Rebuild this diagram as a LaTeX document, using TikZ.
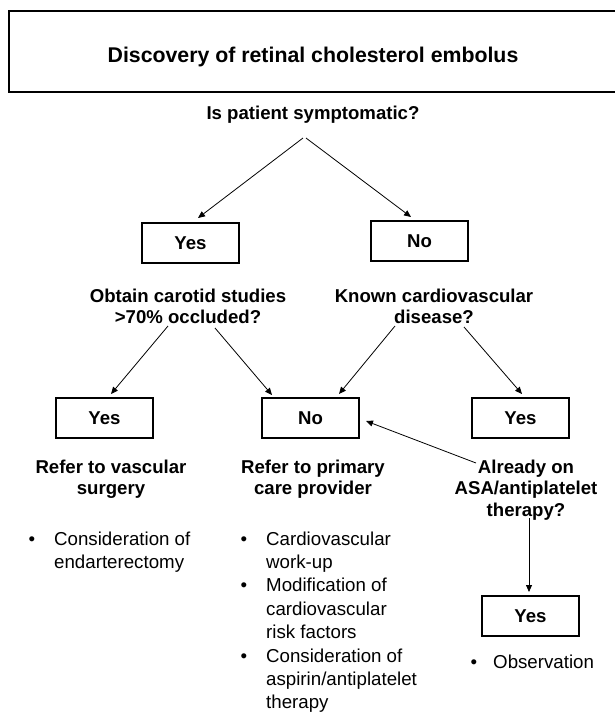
\documentclass[tikz,border=0pt]{standalone}
\usepackage{fontspec}
\setmainfont{Liberation Sans}
\usetikzlibrary{arrows.meta}
\newcommand\bsz{\fontsize{18.6pt}{21.5pt}\selectfont\bfseries}
\newcommand\rsz{\fontsize{18.7pt}{23.4pt}\selectfont}
\tikzset{
  box/.style={draw=black, line width=1.1pt, minimum width=97pt, minimum height=40pt, inner sep=0pt, font=\bsz, text height=13.3pt, text depth=0pt},
  btxt/.style={inner sep=0pt, anchor=base, font=\bsz},
  rtxt/.style={inner sep=0pt, anchor=base west, font=\rsz},
  bul/.style={inner sep=0pt, anchor=base, font=\rsz},
  arr/.style={line width=0.8pt, -{Triangle[length=7pt,width=6pt]}}
}
\begin{document}
\begin{tikzpicture}[x=1pt,y=-1pt]
\useasboundingbox (0,0) rectangle (614,713);
% title
\node[draw=black, line width=1.1pt, minimum width=608pt, minimum height=81pt, inner sep=0pt] (titlebox) at (313,51.5) {};
\node[inner sep=0pt, anchor=base, font=\fontsize{21.3pt}{25pt}\selectfont\bfseries] (title) at (313,62.5) {Discovery of retinal cholesterol embolus};
% question 1
\node[btxt] (q1) at (313,119) {Is patient symptomatic?};
\node[box] (yes1) at (190.5,243) {Yes};
\node[box] (no1) at (419.5,241) {No};
% questions 2
\node[btxt] (q2a) at (188,302) {Obtain carotid studies};
\node[btxt] (q2b) at (188,323) {>70\% occluded?};
\node[btxt] (q3a) at (434,302) {Known cardiovascular};
\node[btxt] (q3b) at (434,323) {disease?};
% row boxes
\node[box] (yes2) at (104.5,418) {Yes};
\node[box] (no2) at (310.5,418) {No};
\node[box] (yes3) at (520.5,418) {Yes};
% outcomes
\node[btxt] (r1a) at (111,473) {Refer to vascular};
\node[btxt] (r1b) at (111,494) {surgery};
\node[btxt] (r2a) at (313,473) {Refer to primary};
\node[btxt] (r2b) at (313,494) {care provider};
\node[btxt] (r3a) at (526,473) {Already on};
\node[btxt] (r3b) at (526,494) {ASA/antiplatelet};
\node[btxt] (r3c) at (526,516) {therapy?};
\node[box] (yes4) at (530.5,616) {Yes};
% lists
\node[bul] (b1) at (32,545) {\textbullet};
\node[rtxt] (l1a) at (54,545) {Consideration of};
\node[rtxt] (l1b) at (54,568.4) {endarterectomy};
\node[bul] (b2) at (244,545) {\textbullet};
\node[rtxt] (l2a) at (266,545) {Cardiovascular};
\node[rtxt] (l2b) at (266,568.4) {work-up};
\node[bul] (b3) at (244,591.8) {\textbullet};
\node[rtxt] (l2c) at (266,591.8) {Modification of};
\node[rtxt] (l2d) at (266,615.2) {cardiovascular};
\node[rtxt] (l2e) at (266,638.6) {risk factors};
\node[bul] (b4) at (244,662) {\textbullet};
\node[rtxt] (l2f) at (266,662) {Consideration of};
\node[rtxt] (l2g) at (266,685.4) {aspirin/antiplatelet};
\node[rtxt] (l2h) at (266,708.8) {therapy};
\node[bul] (b5) at (474,668) {\textbullet};
\node[rtxt] (l3a) at (493,668) {Observation};
% connector ends
\coordinate (s1) at (303,138);
\coordinate (s2) at (306,138);
\coordinate (e1) at (198,218);
\coordinate (e2) at (411,217);
\coordinate (s3) at (168,326);
\coordinate (e3) at (111,394);
\coordinate (s4) at (215,328);
\coordinate (e4) at (272,395);
\coordinate (s5) at (395,326);
\coordinate (e5) at (339,394);
\coordinate (s6) at (464,327);
\coordinate (e6) at (522,394);
\coordinate (s7) at (476,463);
\coordinate (e7) at (366,421);
\coordinate (s8) at (529,518);
\coordinate (e8) at (529,592);
\draw[arr] (s1) -- (e1);
\draw[arr] (s2) -- (e2);
\draw[arr] (s3) -- (e3);
\draw[arr] (s4) -- (e4);
\draw[arr] (s5) -- (e5);
\draw[arr] (s6) -- (e6);
\draw[arr] (s7) -- (e7);
\draw[arr] (s8) -- (e8);
\end{tikzpicture}
\end{document}
